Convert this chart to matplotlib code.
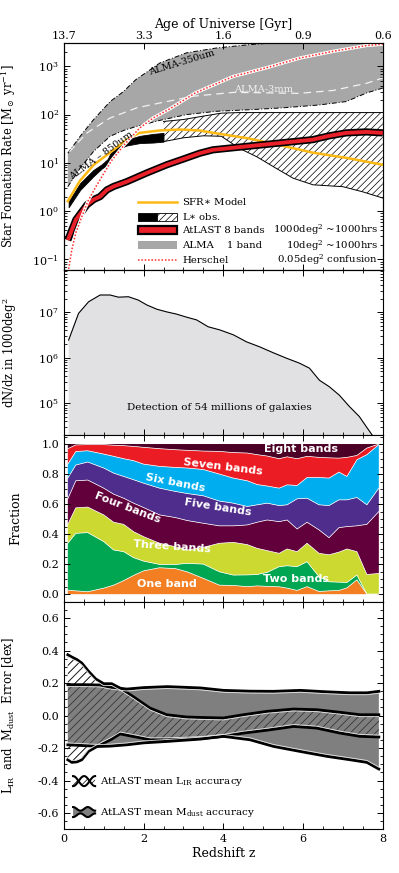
import numpy as np
import matplotlib
matplotlib.use("Agg")
import matplotlib.pyplot as plt
from matplotlib import transforms
from matplotlib.patches import Rectangle
from matplotlib.ticker import MultipleLocator, LogLocator, NullFormatter, FixedLocator, FixedFormatter

plt.rcParams["font.family"] = "DejaVu Serif"
plt.rcParams["mathtext.fontset"] = "dejavuserif"
plt.rcParams["hatch.linewidth"] = 0.5
plt.rcParams["axes.linewidth"] = 0.8

# ---------------- panel 1: star formation rate ----------------
z_alma = [0.1, 0.41, 0.74, 1.16, 1.5, 1.8, 2.41, 3.08, 3.83, 4.66, 5.5, 6.4, 7.08, 7.6, 8.0]
alma_hi = [15.8, 35.5, 77.6, 186, 302, 525, 1175, 1905, 2400, 2820, 3160, 3550, 3800, 4000, 4000]
alma_lo = [3.2, 7.8, 17.0, 35.5, 46.8, 56.2, 75.9, 100, 117, 126, 138, 158, 186, 282, 355]

z_3mm = [0.14, 0.58, 1.16, 1.83, 2.41, 3.24, 4.25, 5.08, 5.9, 6.75, 7.6, 8.0]
alma_3mm = [17, 41.7, 85, 138, 174, 240, 288, 282, 275, 316, 447, 575]

z_model = [0.1, 0.4, 0.75, 1.25, 1.6, 1.9, 2.4, 2.9, 3.4, 3.75, 4.6, 5.4, 6.25, 7.1, 8.0]
sfr_model = [1.6, 4.2, 9.1, 18.6, 31.6, 41.7, 46.8, 49, 46.8, 41.7, 32.4, 23.4, 16.2, 12.6, 9.1]

z_obs = [0.12, 0.41, 0.74, 0.95, 1.1, 1.2, 1.4, 1.58, 1.91, 2.24, 2.5]
obs_lo = [1.2, 2.75, 5.25, 7.6, 9.3, 13.2, 20.0, 22.9, 25.7, 26.3, 27.5]
obs_hi = [1.6, 3.8, 7.1, 9.3, 12.0, 17.8, 23.4, 30.2, 36.3, 39.8, 41.7]

z_extr = [2.5, 3.0, 3.5, 3.95, 4.4, 4.85, 5.3, 5.75, 6.25, 7.0, 7.5, 8.0]
extr_hi = [72, 79, 93, 107, 110, 110, 110, 110, 110, 110, 110, 110]
extr_lo = [27.5, 33, 36.3, 35.5, 20, 13.2, 7.9, 4.8, 3.5, 3.2, 2.5, 1.86]

z_atlast = [0.1, 0.3, 0.58, 0.75, 0.91, 1.08, 1.25, 1.58, 2.08, 2.58, 3.0, 3.41, 3.74,
            4.58, 5.41, 6.24, 6.66, 7.08, 7.58, 8.0]
sfr_atlast = [0.25, 0.66, 1.35, 1.74, 2.0, 2.75, 3.24, 4.07, 6.17, 9.1, 12.0, 15.8, 18.6,
              21.9, 25.7, 30.2, 36.3, 41.7, 43.7, 41.7]

z_herschel = [0.12, 0.2, 0.3, 0.45, 0.6, 0.8, 1.0, 1.2, 1.5, 1.9, 2.24, 2.66, 3.3, 4.25,
              5.08, 5.91, 6.75, 7.58, 8.0]
sfr_herschel = [0.063, 0.158, 0.355, 0.76, 1.58, 3.16, 6.0, 11.2, 22.9, 52.5, 85, 132, 282,
                617, 933, 1480, 2040, 2690, 2880]

# ---------------- panel 2: number counts ----------------
z_counts = [0.12, 0.37, 0.62, 0.91, 1.16, 1.37, 1.62, 1.87, 2.08, 2.33, 2.58, 2.83, 3.08,
            3.33, 3.62, 3.91, 4.25, 4.58, 4.91, 5.25, 5.58, 5.91, 6.16, 6.41, 6.66, 6.91,
            7.16, 7.41, 7.58, 7.75]
dndz = [2.45e6, 9.5e6, 1.7e7, 2.4e7, 2.4e7, 2.15e7, 2.2e7, 1.85e7, 1.45e7, 1.17e7, 1.02e7,
        9.1e6, 7.8e6, 6.8e6, 4.8e6, 4.1e6, 3.2e6, 2.24e6, 1.74e6, 1.29e6, 9.8e5, 7.6e5,
        5.9e5, 3.2e5, 2.3e5, 1.5e5, 8.5e4, 5.1e4, 3.1e4, 1.9e4]

# ---------------- panel 3: cumulative band fractions ----------------
z_frac = [0.1, 0.3, 0.6, 1.0, 1.25, 1.5, 1.75, 2.0, 2.4, 2.8, 3.1, 3.5, 3.9, 4.25, 4.6,
          4.85, 5.1, 5.4, 5.6, 5.85, 6.1, 6.4, 6.65, 6.9, 7.1, 7.35, 7.6, 7.9]
cum_one = [0.027, 0.022, 0.016, 0.04, 0.06, 0.09, 0.125, 0.155, 0.176, 0.17, 0.148, 0.105,
           0.06, 0.058, 0.05, 0.055, 0.052, 0.049, 0.04, 0.025, 0.05, 0.018, 0.022, 0.025,
           0.042, 0.095, 0.0, 0.0]
cum_two = [0.339, 0.405, 0.41, 0.35, 0.294, 0.283, 0.243, 0.22, 0.198, 0.198, 0.205, 0.2,
           0.149, 0.127, 0.128, 0.131, 0.145, 0.183, 0.189, 0.183, 0.216, 0.116, 0.082,
           0.08, 0.078, 0.127, 0.0, 0.0]
cum_three = [0.465, 0.575, 0.58, 0.528, 0.479, 0.465, 0.416, 0.383, 0.339, 0.316, 0.294,
             0.312, 0.339, 0.345, 0.33, 0.305, 0.29, 0.272, 0.301, 0.283, 0.339, 0.272,
             0.262, 0.28, 0.301, 0.283, 0.131, 0.138]
cum_four = [0.635, 0.755, 0.76, 0.706, 0.666, 0.639, 0.606, 0.577, 0.528, 0.51, 0.49, 0.472,
            0.455, 0.455, 0.461, 0.479, 0.494, 0.483, 0.494, 0.434, 0.479, 0.428, 0.376,
            0.443, 0.45, 0.455, 0.465, 0.55]
cum_five = [0.773, 0.86, 0.88, 0.84, 0.806, 0.784, 0.762, 0.739, 0.706, 0.684, 0.67, 0.655,
            0.62, 0.606, 0.584, 0.595, 0.606, 0.59, 0.595, 0.635, 0.639, 0.595, 0.59, 0.628,
            0.628, 0.644, 0.595, 0.706]
cum_six = [0.866, 0.95, 0.955, 0.933, 0.918, 0.902, 0.889, 0.866, 0.851, 0.844, 0.84, 0.83,
           0.8, 0.773, 0.755, 0.73, 0.72, 0.706, 0.728, 0.724, 0.777, 0.777, 0.773, 0.813,
           0.784, 0.895, 0.929, 0.996]
cum_seven = [0.969, 0.994, 0.996, 0.996, 0.992, 0.989, 0.984, 0.978, 0.969, 0.962, 0.958,
             0.953, 0.951, 0.943, 0.94, 0.929, 0.92, 0.902, 0.915, 0.902, 0.918, 0.911,
             0.908, 0.906, 0.911, 0.924, 0.973, 1.0]
cum_eight = [1.0] * len(z_frac)
band_colors = ["#f37f22", "#00a651", "#cbd931", "#62003b", "#4f2d8c", "#00aeef", "#ec1c24", "#4c0025"]
band_names = ["One band", "Two bands", "Three bands", "Four bands", "Five bands",
              "Six bands", "Seven bands", "Eight bands"]
band_label_z = [2.58, 5.83, 2.7, 1.6, 3.87, 2.79, 4.0, 5.95]
band_label_f = [0.071, 0.10, 0.316, 0.574, 0.579, 0.739, 0.85, 0.967]
band_label_rot = [0, 0, -4, -21, -9, -11, -7, 0]

# ---------------- panel 4: accuracies ----------------
z_lir = [0.1, 0.2, 0.33, 0.45, 0.62, 0.8, 1.0, 1.2, 1.41, 1.75, 2.16, 2.58, 3.08, 3.5, 4.0,
         4.5, 5.1, 5.76, 6.34, 6.93, 7.43, 7.9]
lir_hi = [0.374, 0.36, 0.344, 0.323, 0.272, 0.225, 0.196, 0.196, 0.169, 0.115, 0.046, 0.005,
          -0.009, -0.012, -0.015, 0.005, 0.026, 0.04, 0.036, 0.02, 0.005, 0.005]
lir_lo = [-0.272, -0.288, -0.285, -0.272, -0.22, -0.195, -0.17, -0.145, -0.113, -0.129,
          -0.149, -0.149, -0.145, -0.14, -0.128, -0.108, -0.09, -0.067, -0.077, -0.108,
          -0.128, -0.132]
z_md = [0.1, 0.5, 0.9, 1.16, 1.58, 2.0, 2.6, 3.42, 4.0, 4.67, 5.26, 5.93, 6.6, 7.18, 7.6, 7.9]
md_hi = [0.19, 0.19, 0.188, 0.175, 0.163, 0.172, 0.178, 0.17, 0.155, 0.15, 0.149, 0.155,
         0.146, 0.14, 0.14, 0.149]
md_lo = [-0.18, -0.185, -0.19, -0.188, -0.18, -0.168, -0.159, -0.145, -0.128, -0.149, -0.19,
         -0.221, -0.251, -0.272, -0.288, -0.329]

age_ticks_z = [0, 2, 4, 6, 8]
age_labels = ["13.7", "3.3", "1.6", "0.9", "0.6"]

FS = 8
LFS = 8.3

fig = plt.figure(figsize=(3.99, 8.73), dpi=100)
L, W = 0.16, 0.7995
ax1 = fig.add_axes([L, 0.6907, W, 0.2597])
ax2 = fig.add_axes([L, 0.5017, W, 0.1890])
ax3 = fig.add_axes([L, 0.3108, W, 0.1909])
ax4 = fig.add_axes([L, 0.0500, W, 0.2607])


def style_axis(ax, top=True):
    ax.set_xlim(0, 8)
    ax.xaxis.set_major_locator(MultipleLocator(2))
    ax.xaxis.set_minor_locator(MultipleLocator(0.5))
    ax.tick_params(which="both", direction="in", top=top, right=True, labelsize=FS)
    ax.tick_params(which="major", length=4.5, width=0.7)
    ax.tick_params(which="minor", length=2.2, width=0.6)


# ---- panel 1
ax1.set_yscale("log")
ax1.fill_between(z_alma, alma_lo, alma_hi, facecolor="#a7a7a7", edgecolor="none", zorder=1)
ax1.plot(z_alma, alma_hi, color="black", lw=0.7, ls=(0, (5, 2, 1, 2)), zorder=2)
ax1.plot(z_alma, alma_lo, color="black", lw=0.7, ls=(0, (5, 2, 1, 2)), zorder=2)
ax1.plot(z_3mm, alma_3mm, color="#f2f2f2", lw=0.9, ls=(0, (6, 4)), zorder=2)

ax1.fill_between(z_extr, extr_lo, extr_hi, facecolor="white", edgecolor="black",
                 hatch="/////", linewidth=0, zorder=3)
ax1.plot(z_extr, extr_hi, color="black", lw=0.7, zorder=3)
ax1.plot(z_extr, extr_lo, color="black", lw=0.7, zorder=3)
ax1.plot([z_extr[-1], z_extr[-1]], [extr_lo[-1], extr_hi[-1]], color="black", lw=0.7, zorder=3)
ax1.fill_between(z_obs, obs_lo, obs_hi, facecolor="black", edgecolor="black", lw=0.6, zorder=4)

ax1.plot(z_model, sfr_model, color="#fdb913", lw=1.8, zorder=5)
ax1.plot(z_atlast, sfr_atlast, color="black", lw=5.2, solid_capstyle="butt", zorder=6)
ax1.plot(z_atlast, sfr_atlast, color="#e8202a", lw=2.8, solid_capstyle="butt", zorder=7)
ax1.plot(z_herschel, sfr_herschel, color="white", lw=2.4, zorder=8)
ax1.plot(z_herschel, sfr_herschel, color="#ff2a2a", lw=1.1, ls=(0, (1, 1.2)), zorder=9)

ax1.text(2.95, 1180, "ALMA-350um", fontsize=7, rotation=17, ha="center", va="center", zorder=10)
ax1.text(5.0, 330, "ALMA-3mm", fontsize=7, color="#f2f2f2", ha="center", va="center", zorder=10)
ax1.text(0.95, 14, "ALMA – 850um", fontsize=7, rotation=36, ha="center", va="center", zorder=10)

# legend drawn by hand
x0, x1, xm = 0.233, 0.355, 0.292
rows = [0.301, 0.235, 0.176, 0.109, 0.044]
bh = 0.036
T = ax1.transAxes
ax1.plot([x0, x1], [rows[0]] * 2, color="#fdb913", lw=1.8, transform=T, zorder=11)
ax1.add_patch(Rectangle((x0, rows[1] - bh / 2), xm - x0, bh, facecolor="black",
                        edgecolor="black", lw=0.6, transform=T, zorder=11))
ax1.add_patch(Rectangle((xm, rows[1] - bh / 2), x1 - xm, bh, facecolor="white",
                        edgecolor="black", hatch="/////", lw=0.6, transform=T, zorder=11))
ax1.add_patch(Rectangle((x0, rows[2] - bh / 2), x1 - x0, bh, facecolor="#e8202a",
                        edgecolor="black", lw=1.6, transform=T, zorder=11))
ax1.add_patch(Rectangle((x0, rows[3] - bh / 2), x1 - x0, bh, facecolor="#a7a7a7",
                        edgecolor="none", transform=T, zorder=11))
ax1.plot([x0, x1], [rows[4]] * 2, color="#ff2a2a", lw=1.1, ls=(0, (1, 1.2)), transform=T, zorder=11)
left_txt = [r"SFR$\ast$ Model", r"L$\ast$ obs.", "AtLAST 8 bands", "ALMA    1 band", "Herschel"]
right_txt = ["", "", r"1000deg$^2$ ~1000hrs", r"10deg$^2$ ~1000hrs", r"0.05deg$^2$ confusion"]
for y, lt, rt in zip(rows, left_txt, right_txt):
    ax1.text(0.371, y, lt, fontsize=7.3, va="center", ha="left", transform=T, zorder=11)
    if rt:
        ax1.text(0.985, y, rt, fontsize=7.3, va="center", ha="right", transform=T, zorder=11)

style_axis(ax1, top=False)
ax1.set_ylim(0.06, 3000)
ax1.yaxis.set_major_locator(LogLocator(base=10, numticks=10))
ax1.yaxis.set_minor_locator(LogLocator(base=10, subs=np.arange(2, 10), numticks=10))
ax1.yaxis.set_minor_formatter(NullFormatter())
ax1.tick_params(labelbottom=False)
ax1.set_ylabel(r"Star Formation Rate [M$_\odot$ yr$^{-1}$]", fontsize=LFS)
ax1.yaxis.set_label_coords(-0.145, 0.5)

ax_top = ax1.twiny()
ax_top.set_xlim(0, 8)
ax_top.xaxis.set_major_locator(FixedLocator(age_ticks_z))
ax_top.xaxis.set_major_formatter(FixedFormatter(age_labels))
ax_top.tick_params(direction="in", length=4.5, width=0.7, labelsize=FS, pad=2)
ax_top.set_xlabel("Age of Universe [Gyr]", fontsize=9, labelpad=2)

# ---- panel 2
ax2.set_yscale("log")
ax2.fill_between(z_counts, dndz, 1e3, facecolor="#e1e1e3", edgecolor="none")
ax2.plot(z_counts, dndz, color="black", lw=0.8)
style_axis(ax2)
ax2.set_ylim(2e4, 8.5e7)
ax2.yaxis.set_major_locator(LogLocator(base=10, numticks=10))
ax2.yaxis.set_minor_locator(LogLocator(base=10, subs=np.arange(2, 10), numticks=10))
ax2.yaxis.set_minor_formatter(NullFormatter())
ax2.tick_params(labelbottom=False)
ax2.set_ylabel(r"dN/dz in 1000deg$^2$", fontsize=LFS)
ax2.yaxis.set_label_coords(-0.14, 0.5)
ax2.text(0.487, 0.164, "Detection of 54 millions of galaxies", fontsize=7.5,
         ha="center", va="center", transform=ax2.transAxes)

# ---- panel 3
bounds = [np.zeros(len(z_frac)), cum_one, cum_two, cum_three, cum_four, cum_five,
          cum_six, cum_seven, cum_eight]
for lo, hi, col in zip(bounds[:-1], bounds[1:], band_colors):
    ax3.fill_between(z_frac, lo, hi, facecolor=col, edgecolor="none", zorder=1)
for b in bounds[1:-1]:
    ax3.plot(z_frac, b, color="white", lw=0.5, zorder=2)
for name, zz, ff, rot in zip(band_names, band_label_z, band_label_f, band_label_rot):
    ax3.text(zz, ff, name, fontsize=8, color="white", fontweight="bold", family="DejaVu Sans",
             rotation=rot, ha="center", va="center", zorder=3)
style_axis(ax3)
ax3.set_ylim(-0.05, 1.06)
ax3.yaxis.set_major_locator(MultipleLocator(0.2))
ax3.yaxis.set_minor_locator(MultipleLocator(0.05))
ax3.yaxis.set_major_formatter(matplotlib.ticker.FormatStrFormatter("%.1f"))
ax3.tick_params(labelbottom=False)
ax3.set_ylabel("Fraction", fontsize=9)
ax3.yaxis.set_label_coords(-0.13, 0.5)

# ---- panel 4
ax4.fill_between(z_lir, lir_lo, lir_hi, facecolor="white", edgecolor="black", hatch="////",
                 linewidth=0, zorder=1)
ax4.fill_between(z_md, md_lo, md_hi, facecolor="#7f7f7f", edgecolor="none", zorder=2)
ax4.fill_between(z_lir, lir_lo, lir_hi, facecolor="none", edgecolor="#2a2a2a", hatch="////",
                 linewidth=0, zorder=3)
down = transforms.offset_copy(ax4.transData, fig=fig, y=-1.4, units="points")
up = transforms.offset_copy(ax4.transData, fig=fig, y=1.4, units="points")
for zz, hi, lo in [(z_md, md_hi, md_lo), (z_lir, lir_hi, lir_lo)]:
    ax4.plot(zz, hi, color="black", lw=2.0, zorder=4)
    ax4.plot(zz, lo, color="black", lw=2.0, zorder=4)
    ax4.plot(zz, hi, color="#e6e6e6", lw=0.6, transform=down, zorder=5)
    ax4.plot(zz, lo, color="#e6e6e6", lw=0.6, transform=up, zorder=5)

# legend glyphs
t = np.linspace(0, 1, 60)
gx = 0.029 + 0.069 * t
T4 = ax4.transAxes
yc = 0.212
g_top = yc + 0.022 * np.cos(2 * np.pi * t)
g_bot = yc - 0.022 * np.cos(2 * np.pi * t)
ax4.fill_between(gx, g_bot, g_top, facecolor="white", edgecolor="black", hatch="////",
                 linewidth=0, transform=T4, zorder=6)
ax4.plot(gx, g_top, color="black", lw=1.5, transform=T4, zorder=7)
ax4.plot(gx, g_bot, color="black", lw=1.5, transform=T4, zorder=7)
yc = 0.076
g_top = yc + 0.014 + 0.008 * np.cos(2 * np.pi * 1.5 * t)
g_bot = yc - 0.014 - 0.008 * np.cos(2 * np.pi * 1.5 * t)
ax4.fill_between(gx, g_bot, g_top, facecolor="#7f7f7f", edgecolor="none", transform=T4, zorder=6)
ax4.plot(gx, g_top, color="black", lw=1.5, transform=T4, zorder=7)
ax4.plot(gx, g_bot, color="black", lw=1.5, transform=T4, zorder=7)
ax4.text(0.114, 0.212, r"AtLAST mean L$_{\rm IR}$ accuracy", fontsize=7.5, va="center",
         transform=T4, zorder=8)
ax4.text(0.114, 0.076, r"AtLAST mean M$_{\rm dust}$ accuracy", fontsize=7.5, va="center",
         transform=T4, zorder=8)

style_axis(ax4)
ax4.set_ylim(-0.7, 0.7)
ax4.yaxis.set_major_locator(MultipleLocator(0.2))
ax4.yaxis.set_minor_locator(MultipleLocator(0.05))
ax4.yaxis.set_major_formatter(matplotlib.ticker.FormatStrFormatter("%.1f"))
ax4.set_xlabel("Redshift z", fontsize=9, labelpad=2)
ax4.set_ylabel(r"L$_{\rm IR}$  and  M$_{\rm dust}$  Error [dex]", fontsize=LFS)
ax4.yaxis.set_label_coords(-0.148, 0.5)

fig.savefig("out.png", dpi=100)
